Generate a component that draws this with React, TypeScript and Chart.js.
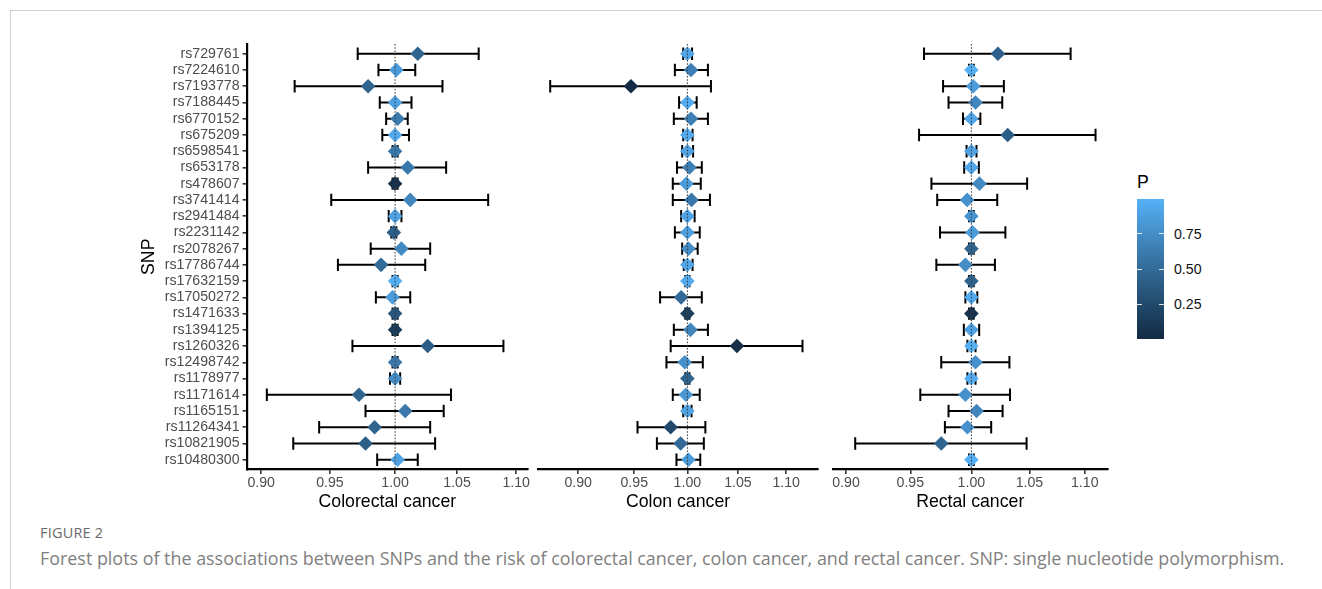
import React, { useEffect, useRef } from "react";
import { Chart, registerables } from "chart.js";
Chart.register(...registerables);

const FONT = "'Liberation Sans', Arial, Helvetica, sans-serif";

// SNPs listed from top row to bottom row
const snps = [
  "rs729761", "rs7224610", "rs7193778", "rs7188445", "rs6770152", "rs675209",
  "rs6598541", "rs653178", "rs478607", "rs3741414", "rs2941484", "rs2231142",
  "rs2078267", "rs17786744", "rs17632159", "rs17050272", "rs1471633", "rs1394125",
  "rs1260326", "rs12498742", "rs1178977", "rs1171614", "rs1165151", "rs11264341",
  "rs10821905", "rs10480300",
];

// Colorectal cancer
const crcOR = [1.018, 1.001, 0.979, 1.0, 1.002, 1.0, 1.0, 1.010, 1.0, 1.012, 1.0, 0.999, 1.005, 0.989, 1.0, 0.998, 1.0, 1.0, 1.026, 1.0, 1.0, 0.972, 1.008, 0.984, 0.977, 1.002];
const crcLow = [0.971, 0.987, 0.924, 0.988, 0.993, 0.990, 0.998, 0.979, 0.998, 0.951, 0.995, 0.997, 0.981, 0.956, 0.998, 0.985, 0.998, 0.998, 0.967, 0.998, 0.996, 0.904, 0.977, 0.942, 0.923, 0.986];
const crcHigh = [1.068, 1.016, 1.038, 1.013, 1.010, 1.011, 1.002, 1.041, 1.002, 1.076, 1.005, 1.001, 1.028, 1.024, 1.002, 1.012, 1.002, 1.002, 1.089, 1.002, 1.004, 1.045, 1.039, 1.028, 1.032, 1.018];
const crcP = [0.45, 0.85, 0.45, 0.9, 0.62, 0.95, 0.6, 0.6, 0.05, 0.7, 0.9, 0.42, 0.72, 0.5, 0.98, 0.85, 0.35, 0.15, 0.4, 0.6, 0.75, 0.45, 0.6, 0.45, 0.4, 0.9];

// Colon cancer
const colonOR = [1.0, 1.0035, 0.947, 1.0, 1.0035, 1.0, 1.0, 1.002, 0.999, 1.004, 1.0, 1.0, 1.001, 1.0, 1.0, 0.994, 1.0, 1.003, 1.049, 0.9975, 1.0, 0.9985, 1.0, 0.984, 0.9935, 1.001];
const colonLow = [0.996, 0.988, 0.876, 0.992, 0.987, 0.996, 0.995, 0.990, 0.986, 0.986, 0.994, 0.988, 0.995, 0.9965, 0.998, 0.974, 0.998, 0.987, 0.984, 0.980, 0.998, 0.986, 0.996, 0.953, 0.971, 0.9895];
const colonHigh = [1.0045, 1.020, 1.023, 1.009, 1.020, 1.005, 1.0055, 1.014, 1.013, 1.022, 1.007, 1.012, 1.010, 1.005, 1.002, 1.014, 1.002, 1.020, 1.1175, 1.015, 1.002, 1.012, 1.004, 1.0175, 1.016, 1.0125];
const colonP = [0.92, 0.65, 0.003, 0.95, 0.65, 0.95, 0.9, 0.65, 0.85, 0.6, 0.9, 0.88, 0.75, 0.92, 0.95, 0.5, 0.15, 0.7, 0.04, 0.78, 0.45, 0.82, 0.9, 0.25, 0.5, 0.85];

// Rectal cancer
const rectalOR = [1.0226, 1.0, 1.0016, 1.0035, 1.0, 1.031, 1.0, 1.0, 1.0068, 0.9965, 1.0, 1.001, 1.0, 0.995, 1.0, 1.0, 1.0, 1.0, 1.0, 1.0035, 1.0, 0.995, 1.0044, 0.9967, 0.975, 1.0];
const rectalLow = [0.961, 0.998, 0.9765, 0.981, 0.993, 0.957, 0.996, 0.994, 0.967, 0.9717, 0.998, 0.974, 0.998, 0.971, 0.998, 0.995, 0.998, 0.9937, 0.9967, 0.975, 0.9967, 0.958, 0.981, 0.978, 0.907, 0.998];
const rectalHigh = [1.087, 1.002, 1.0277, 1.0263, 1.0076, 1.110, 1.0043, 1.0063, 1.048, 1.022, 1.002, 1.029, 1.002, 1.020, 1.002, 1.005, 1.002, 1.0066, 1.0035, 1.0325, 1.0035, 1.033, 1.0266, 1.0168, 1.0475, 1.002];
const rectalP = [0.42, 0.995, 0.85, 0.7, 0.92, 0.4, 0.9, 0.93, 0.72, 0.78, 0.8, 0.85, 0.45, 0.75, 0.45, 0.95, 0.05, 0.9, 0.98, 0.78, 0.95, 0.78, 0.7, 0.78, 0.45, 0.98];

const xTickValues = [0.9, 0.95, 1.0, 1.05, 1.1];
const legendTickValues = [0.25, 0.5, 0.75];

const LOW_COLOR = "#132B43";
const HIGH_COLOR = "#56B1F7";

// ---- colour helpers (CIELAB interpolation like ggplot2) ----
function hexToRgb(h: string): number[] {
  const v = h.replace("#", "");
  return [0, 2, 4].map((i) => parseInt(v.slice(i, i + 2), 16));
}
function toLin(c: number) {
  c /= 255;
  return c <= 0.04045 ? c / 12.92 : Math.pow((c + 0.055) / 1.055, 2.4);
}
function fromLin(c: number) {
  const v = c <= 0.0031308 ? 12.92 * c : 1.055 * Math.pow(c, 1 / 2.4) - 0.055;
  return Math.round(Math.max(0, Math.min(1, v)) * 255);
}
const XN = 0.95047, YN = 1.0, ZN = 1.08883;
function rgbToLab(rgb: number[]) {
  const [R, G, B] = rgb.map(toLin);
  const X = (0.4124 * R + 0.3576 * G + 0.1805 * B) / XN;
  const Y = (0.2126 * R + 0.7152 * G + 0.0722 * B) / YN;
  const Z = (0.0193 * R + 0.1192 * G + 0.9505 * B) / ZN;
  const f = (t: number) => (t > 0.008856 ? Math.cbrt(t) : 7.787 * t + 16 / 116);
  const fx = f(X), fy = f(Y), fz = f(Z);
  return [116 * fy - 16, 500 * (fx - fy), 200 * (fy - fz)];
}
function labToRgb(lab: number[]) {
  const [L, a, b] = lab;
  const fy = (L + 16) / 116;
  const fx = fy + a / 500;
  const fz = fy - b / 200;
  const fi = (t: number) => (t * t * t > 0.008856 ? t * t * t : (t - 16 / 116) / 7.787);
  const X = fi(fx) * XN, Y = fi(fy) * YN, Z = fi(fz) * ZN;
  const R = 3.2406 * X - 1.5372 * Y - 0.4986 * Z;
  const G = -0.9689 * X + 1.8758 * Y + 0.0415 * Z;
  const B = 0.0557 * X - 0.204 * Y + 1.057 * Z;
  return [fromLin(R), fromLin(G), fromLin(B)];
}
const LAB_LO = rgbToLab(hexToRgb(LOW_COLOR));
const LAB_HI = rgbToLab(hexToRgb(HIGH_COLOR));
function mix(t: number) {
  const tt = Math.max(0, Math.min(1, t));
  const lab = LAB_LO.map((v, i) => v + (LAB_HI[i] - v) * tt);
  const [r, g, b] = labToRgb(lab);
  return `rgb(${r},${g},${b})`;
}
const allP = [...crcP, ...colonP, ...rectalP];
const P_MIN = Math.min(...allP);
const P_MAX = Math.max(...allP);
const pColor = (p: number) => mix((p - P_MIN) / (P_MAX - P_MIN));

// ---- layout constants ----
const CANVAS_TOP = 30;
const CANVAS_H = 483;
const PLOT_TOP = 44;
const XAXIS_H = 43.5;
const TICK_SIZE = 14.16;
const TITLE_SIZE = 17.7;

type PanelProps = {
  title: string;
  or: number[];
  low: number[];
  high: number[];
  p: number[];
  left: number;
  width: number;
  padLeft: number;
  padRight: number;
  xMin: number;
  xMax: number;
  showY: boolean;
};

function ForestPanel(props: PanelProps) {
  const ref = useRef<HTMLCanvasElement>(null);
  useEffect(() => {
    const n = snps.length;
    const extras = {
      id: "forestExtras",
      beforeDatasetsDraw(chart: any) {
        const { ctx, scales } = chart;
        const xs = scales.x, ys = scales.y;
        ctx.save();
        ctx.strokeStyle = "#000";
        ctx.lineWidth = 2;
        ctx.lineCap = "butt";
        props.low.forEach((lo, i) => {
          const yy = ys.getPixelForValue(n - i);
          const x0 = xs.getPixelForValue(lo);
          const x1 = xs.getPixelForValue(props.high[i]);
          const cap = 6.2;
          ctx.beginPath();
          ctx.moveTo(x0, yy);
          ctx.lineTo(x1, yy);
          ctx.moveTo(x0, yy - cap);
          ctx.lineTo(x0, yy + cap);
          ctx.moveTo(x1, yy - cap);
          ctx.lineTo(x1, yy + cap);
          ctx.stroke();
        });
        ctx.restore();
      },
      afterDatasetsDraw(chart: any) {
        const { ctx, scales, chartArea } = chart;
        const x = scales.x.getPixelForValue(1);
        ctx.save();
        ctx.strokeStyle = "#3a3a3a";
        ctx.lineWidth = 1;
        ctx.setLineDash([1.6, 1.6]);
        ctx.beginPath();
        ctx.moveTo(x, chartArea.top);
        ctx.lineTo(x, chartArea.bottom);
        ctx.stroke();
        ctx.restore();
      },
    };
    const chart = new Chart(ref.current as HTMLCanvasElement, {
      type: "scatter",
      data: {
        datasets: [
          {
            data: props.or.map((v, i) => ({ x: v, y: n - i })),
            pointStyle: "rectRot",
            pointRadius: 7.3,
            pointHoverRadius: 7.3,
            backgroundColor: props.p.map(pColor),
            borderWidth: 0,
          },
        ],
      },
      options: {
        responsive: false,
        animation: false,
        events: [],
        layout: {
          padding: { top: PLOT_TOP - CANVAS_TOP, left: props.padLeft, right: props.padRight, bottom: 0 },
        },
        plugins: { legend: { display: false }, tooltip: { enabled: false } },
        scales: {
          x: {
            type: "logarithmic",
            position: "bottom",
            min: props.xMin,
            max: props.xMax,
            afterBuildTicks: (s: any) => {
              s.ticks = xTickValues.map((v) => ({ value: v }));
            },
            afterFit: (s: any) => {
              s.height = XAXIS_H;
            },
            ticks: {
              autoSkip: false,
              maxRotation: 0,
              minRotation: 0,
              padding: 1,
              color: "#4D4D4D",
              font: { family: FONT, size: TICK_SIZE },
              callback: (v: any) => Number(v).toFixed(2),
            },
            grid: {
              display: true,
              drawOnChartArea: false,
              drawTicks: true,
              tickLength: 4.4,
              color: "#333333",
              tickColor: "#333333",
              lineWidth: 1.6,
            },
            border: { display: true, color: "#000", width: 2.2 },
            title: {
              display: true,
              text: props.title,
              color: "#000",
              padding: 0,
              font: { family: FONT, size: TITLE_SIZE },
            },
          },
          y: {
            type: "linear",
            position: "left",
            display: props.showY,
            min: 0.4,
            max: n + 0.6,
            afterBuildTicks: (s: any) => {
              s.ticks = snps.map((_, i) => ({ value: n - i }));
            },
            afterFit: (s: any) => {
              s.width = 247 - props.left;
            },
            ticks: {
              autoSkip: false,
              padding: 3,
              color: "#4D4D4D",
              font: { family: FONT, size: TICK_SIZE, lineHeight: 1 },
              callback: (v: any) => snps[n - Number(v)],
            },
            grid: {
              display: true,
              drawOnChartArea: false,
              drawTicks: true,
              tickLength: 4.4,
              color: "#333333",
              tickColor: "#333333",
              lineWidth: 1.6,
            },
            border: { display: true, color: "#000", width: 2.2 },
            title: {
              display: true,
              text: "SNP",
              color: "#000",
              padding: { top: 8, bottom: 0 },
              font: { family: FONT, size: TITLE_SIZE },
            },
          },
        },
      },
      plugins: [extras],
    } as any);
    return () => chart.destroy();
  }, []);
  return (
    <canvas
      ref={ref}
      width={props.width}
      height={CANVAS_H}
      style={{ position: "absolute", left: props.left, top: CANVAS_TOP, width: props.width, height: CANVAS_H }}
    />
  );
}

function ColorBar() {
  const top = 199.3, h = 140, left = 1136.7, w = 27.6;
  const stops: string[] = [];
  for (let i = 0; i <= 20; i++) {
    const t = i / 20;
    stops.push(`${mix(t)} ${(t * 100).toFixed(1)}%`);
  }
  const yOf = (v: number) => top + h - ((v - P_MIN) / (P_MAX - P_MIN)) * h;
  return (
    <>
      <div
        style={{
          position: "absolute", left: 1137, top: 182.7 - TITLE_SIZE * 0.5, fontFamily: FONT,
          fontSize: TITLE_SIZE, lineHeight: 1, color: "#000",
        }}
      >
        P
      </div>
      <div
        style={{
          position: "absolute", left, top, width: w, height: h,
          background: `linear-gradient(to top, ${stops.join(", ")})`,
        }}
      />
      {legendTickValues.map((v) => (
        <React.Fragment key={v}>
          <div style={{ position: "absolute", left, top: yOf(v) - 0.5, width: 5.5, height: 1, background: "rgba(255,255,255,0.85)" }} />
          <div style={{ position: "absolute", left: left + w - 5.5, top: yOf(v) - 0.5, width: 5.5, height: 1, background: "rgba(255,255,255,0.85)" }} />
          <div
            style={{
              position: "absolute", left: 1174, top: yOf(v) - TICK_SIZE * 0.5, fontFamily: FONT,
              fontSize: TICK_SIZE, lineHeight: 1, color: "#111",
            }}
          >
            {v.toFixed(2)}
          </div>
        </React.Fragment>
      ))}
    </>
  );
}

export default function App() {
  return (
    <div
      style={{
        position: "absolute", left: 0, top: 0, width: 1322, height: 589, overflow: "hidden", background: "#fff",
      }}
    >
      <div
        style={{
          position: "absolute", left: 10, top: 10, width: 1330, height: 600,
          borderTop: "1px solid #cfcfcf", borderLeft: "1px solid #cfcfcf",
        }}
      />
      <ForestPanel title="Colorectal cancer" or={crcOR} low={crcLow} high={crcHigh} p={crcP}
        left={130} width={405} padLeft={0} padRight={6.7} xMin={0.891} xMax={1.110} showY={true} />
      <ForestPanel title="Colon cancer" or={colonOR} low={colonLow} high={colonHigh} p={colonP}
        left={530} width={295} padLeft={8.3} padRight={6.7} xMin={0.866} xMax={1.134} showY={false} />
      <ForestPanel title="Rectal cancer" or={rectalOR} low={rectalLow} high={rectalHigh} p={rectalP}
        left={825} width={290} padLeft={7.7} padRight={5.7} xMin={0.894} xMax={1.1214} showY={false} />
      <ColorBar />
      <div
        style={{
          position: "absolute", left: 40, top: 525, fontFamily: "'Open Sans', sans-serif", fontSize: 14.5,
          lineHeight: "16px", color: "#6b6b6b", letterSpacing: 0.2,
        }}
      >
        FIGURE 2
      </div>
      <div
        style={{
          position: "absolute", left: 40, top: 546.5, fontFamily: "'Open Sans', sans-serif", fontSize: 17.9,
          lineHeight: "22px", color: "#808080", whiteSpace: "nowrap",
        }}
      >
        Forest plots of the associations between SNPs and the risk of colorectal cancer, colon cancer, and rectal cancer. SNP: single nucleotide polymorphism.
      </div>
    </div>
  );
}
